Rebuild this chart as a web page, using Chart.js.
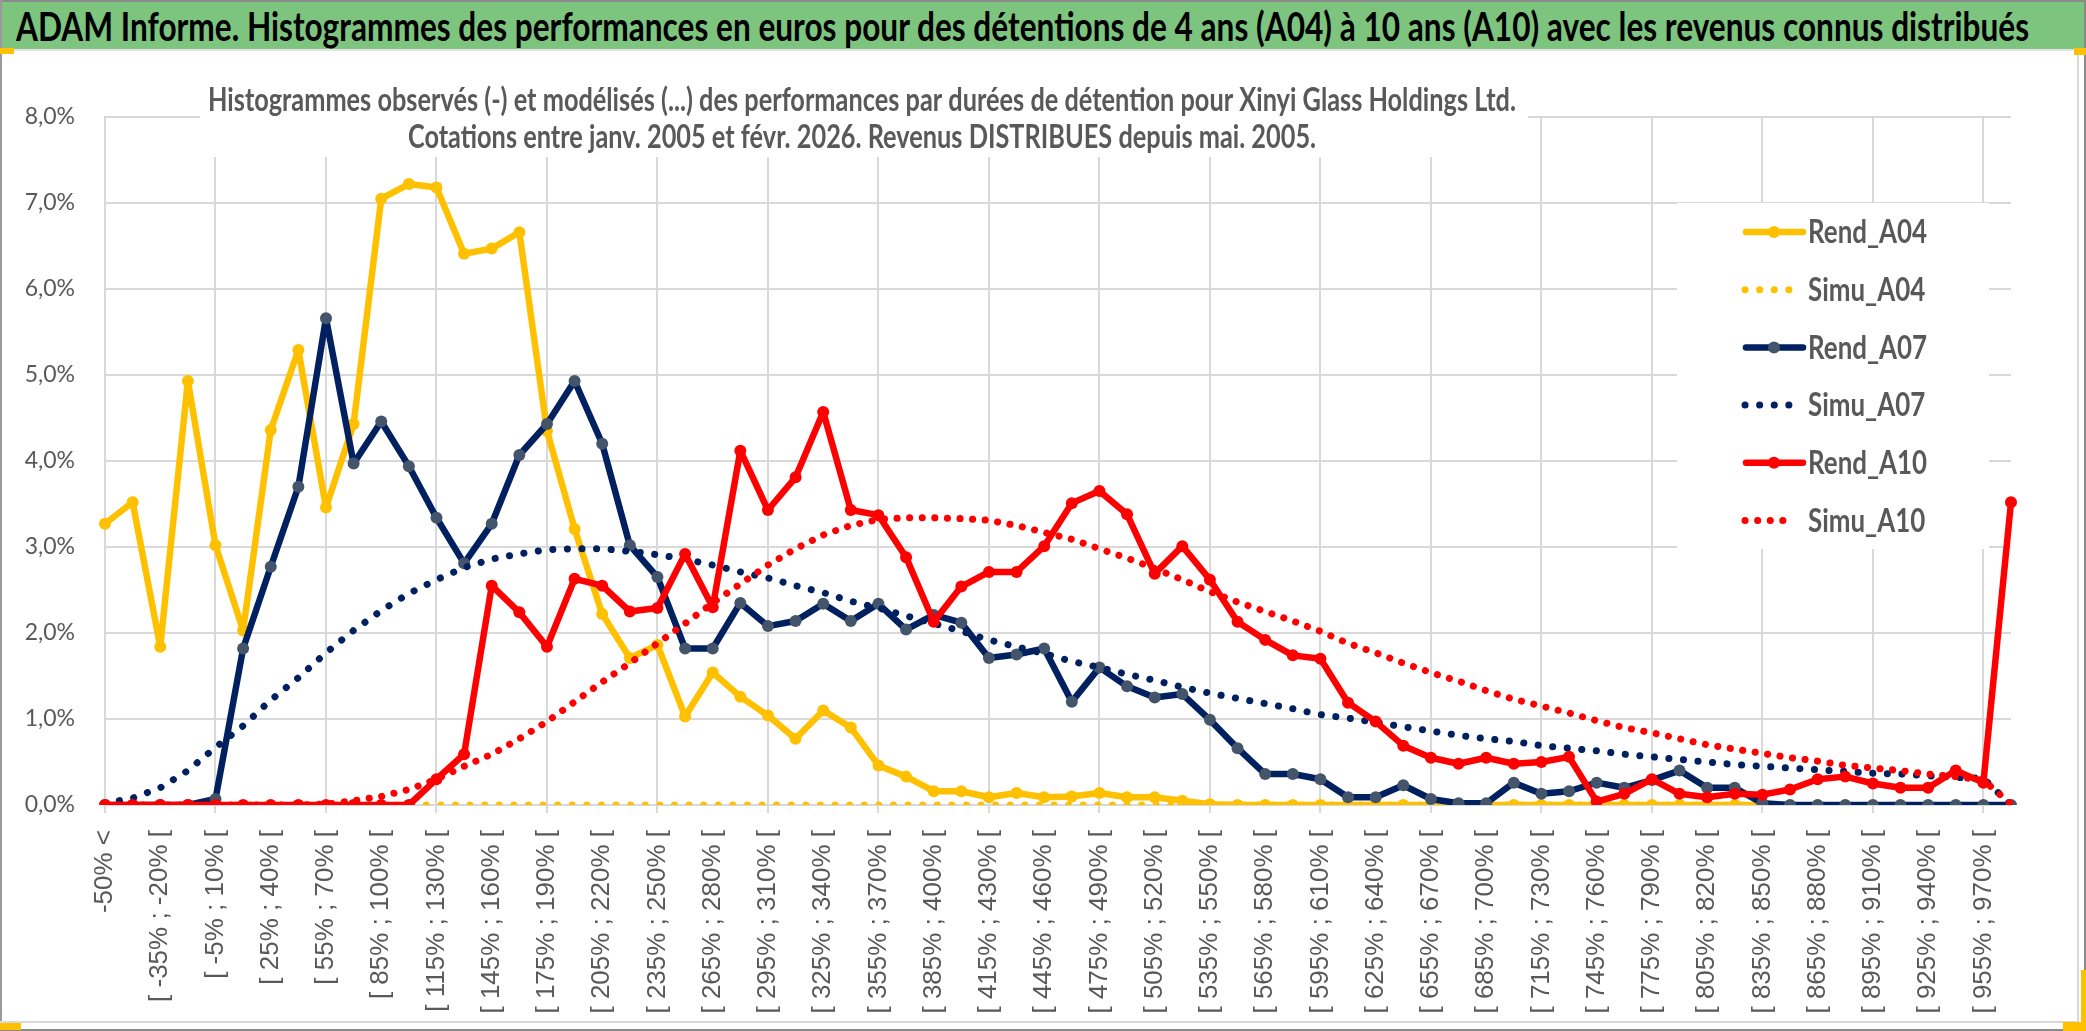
<!DOCTYPE html>
<html lang="fr">
<head>
<meta charset="utf-8">
<title>ADAM Informe - Xinyi Glass Holdings Ltd.</title>
<script src="https://cdn.jsdelivr.net/npm/chart.js@4.4.1/dist/chart.umd.min.js"></script>
<style>
  html, body { margin: 0; padding: 0; background: #fff; }
  #page { position: relative; width: 2086px; height: 1031px; overflow: hidden; background: #fff; }
  #header { position: absolute; left: 0; top: 0; width: 2086px; height: 49px; background: #7DC57E; }
  #header h1 { position: absolute; left: 16px; top: 0; margin: 0; line-height: 52px; font-family: Lato, 'Liberation Sans', sans-serif; font-weight: bold; font-size: 40px; color: #000; white-space: nowrap; transform-origin: 0 50%; }
  .line { position: absolute; }
  .mark { position: absolute; background: #FFC000; }
  #chart { position: absolute; left: 2px; top: 51px; }
</style>
</head>
<body>
<div id="page">
  <div id="header"><h1 id="title">ADAM Informe. Histogrammes des performances en euros pour des détentions de 4 ans (A04) à 10 ans (A10) avec les revenus connus distribués</h1></div>
  <!-- cadre -->
  <div class="line" style="left:0;top:0;width:2086px;height:2px;background:#8a8a8a"></div>
  <div class="line" style="left:0;top:49px;width:2086px;height:2px;background:#e3e3e3"></div>
  <div class="line" style="left:0;top:0;width:2px;height:1031px;background:#9a9a9a"></div>
  <div class="line" style="left:2077px;top:51px;width:2px;height:972px;background:#d9d9d9"></div>
  <div class="line" style="left:2084px;top:0;width:2px;height:1031px;background:#8a8a8a"></div>
  <div class="line" style="left:0;top:1021px;width:2079px;height:2px;background:#d9d9d9"></div>
  <div class="line" style="left:0;top:1029px;width:2086px;height:2px;background:#8a8a8a"></div>
  <div class="mark" style="left:0;top:48px;width:14px;height:6px"></div>
  <div class="mark" style="left:2074px;top:48px;width:12px;height:7px"></div>
  <div class="mark" style="left:0;top:1023px;width:21px;height:7px"></div>
  <div class="mark" style="left:2063px;top:1022px;width:23px;height:9px"></div>
  <div class="mark" style="left:2081px;top:970px;width:5px;height:61px"></div>
  <canvas id="chart" width="2076" height="971"></canvas>
</div>
<script>
// classes de performance (pas de 15 %)
const categories = [
  '-50% <', '[ -50% ; -35% [', '[ -35% ; -20% [', '[ -20% ; -5% [', '[ -5% ; 10% [',
  '[ 10% ; 25% [', '[ 25% ; 40% [', '[ 40% ; 55% [', '[ 55% ; 70% [', '[ 70% ; 85% [',
  '[ 85% ; 100% [', '[ 100% ; 115% [', '[ 115% ; 130% [', '[ 130% ; 145% [', '[ 145% ; 160% [',
  '[ 160% ; 175% [', '[ 175% ; 190% [', '[ 190% ; 205% [', '[ 205% ; 220% [', '[ 220% ; 235% [',
  '[ 235% ; 250% [', '[ 250% ; 265% [', '[ 265% ; 280% [', '[ 280% ; 295% [', '[ 295% ; 310% [',
  '[ 310% ; 325% [', '[ 325% ; 340% [', '[ 340% ; 355% [', '[ 355% ; 370% [', '[ 370% ; 385% [',
  '[ 385% ; 400% [', '[ 400% ; 415% [', '[ 415% ; 430% [', '[ 430% ; 445% [', '[ 445% ; 460% [',
  '[ 460% ; 475% [', '[ 475% ; 490% [', '[ 490% ; 505% [', '[ 505% ; 520% [', '[ 520% ; 535% [',
  '[ 535% ; 550% [', '[ 550% ; 565% [', '[ 565% ; 580% [', '[ 580% ; 595% [', '[ 595% ; 610% [',
  '[ 610% ; 625% [', '[ 625% ; 640% [', '[ 640% ; 655% [', '[ 655% ; 670% [', '[ 670% ; 685% [',
  '[ 685% ; 700% [', '[ 700% ; 715% [', '[ 715% ; 730% [', '[ 730% ; 745% [', '[ 745% ; 760% [',
  '[ 760% ; 775% [', '[ 775% ; 790% [', '[ 790% ; 805% [', '[ 805% ; 820% [', '[ 820% ; 835% [',
  '[ 835% ; 850% [', '[ 850% ; 865% [', '[ 865% ; 880% [', '[ 880% ; 895% [', '[ 895% ; 910% [',
  '[ 910% ; 925% [', '[ 925% ; 940% [', '[ 940% ; 955% [', '[ 955% ; 970% [', '970% >'
];

// fréquences observées (en %)
const rendA04 = [
  3.27, 3.52, 1.84, 4.93, 3.02, 2.03, 4.36, 5.29, 3.46, 4.43,
  7.05, 7.22, 7.18, 6.41, 6.47, 6.66, 4.35, 3.21, 2.22, 1.71,
  1.86, 1.03, 1.54, 1.26, 1.04, 0.77, 1.10, 0.90, 0.46, 0.33,
  0.16, 0.16, 0.09, 0.14, 0.09, 0.10, 0.14, 0.09, 0.09, 0.05,
  0.01, 0, 0, 0, 0, 0, 0, 0, 0, 0,
  0, 0, 0, 0, 0, 0, 0, 0, 0, 0,
  0, null, null, null, null, null, null, null, null, null
];
const rendA07 = [
  0, 0, 0, 0, 0.07, 1.82, 2.77, 3.70, 5.66, 3.97,
  4.46, 3.94, 3.34, 2.81, 3.27, 4.07, 4.43, 4.93, 4.20, 3.02,
  2.65, 1.82, 1.82, 2.35, 2.08, 2.14, 2.34, 2.14, 2.34, 2.04,
  2.21, 2.12, 1.71, 1.75, 1.82, 1.20, 1.60, 1.38, 1.25, 1.29,
  0.99, 0.66, 0.36, 0.36, 0.30, 0.09, 0.09, 0.23, 0.07, 0.02,
  0.02, 0.26, 0.13, 0.16, 0.26, 0.20, 0.29, 0.40, 0.20, 0.20,
  0.02, 0, 0, 0, 0, 0, 0, 0, 0, 0
];
const rendA10 = [
  0, 0, 0, 0, 0, 0, 0, 0, 0, 0,
  0, 0, 0.30, 0.59, 2.55, 2.24, 1.84, 2.63, 2.55, 2.25,
  2.29, 2.92, 2.30, 4.12, 3.43, 3.81, 4.57, 3.43, 3.37, 2.88,
  2.13, 2.54, 2.71, 2.71, 3.01, 3.51, 3.65, 3.38, 2.69, 3.01,
  2.62, 2.13, 1.92, 1.74, 1.70, 1.19, 0.97, 0.69, 0.55, 0.48,
  0.55, 0.48, 0.50, 0.56, 0.04, 0.13, 0.30, 0.13, 0.09, 0.13,
  0.12, 0.18, 0.30, 0.33, 0.25, 0.20, 0.20, 0.40, 0.26, 3.52
];

// fréquences modélisées (en %)
const simuA04 = [
  0, 0, 0, 0, 0, 0, 0, 0, 0, 0,
  0, 0, 0, 0, 0, 0, 0, 0, 0, 0,
  0, 0, 0, 0, 0, 0, 0, 0, 0, 0,
  0, 0, 0, 0, 0, 0, 0, 0, 0, 0,
  0, 0, 0, 0, 0, 0, 0, 0, 0, 0,
  0, 0, 0, 0, 0, 0, 0, 0, 0, 0,
  0, null, null, null, null, null, null, null, null, null
];
const simuA07 = [
  0.02, 0.08, 0.20, 0.40, 0.67, 0.92, 1.22, 1.48, 1.77, 2.03,
  2.26, 2.46, 2.62, 2.76, 2.86, 2.92, 2.97, 2.98, 2.98, 2.95,
  2.91, 2.86, 2.79, 2.71, 2.64, 2.55, 2.47, 2.37, 2.29, 2.20,
  2.11, 2.02, 1.92, 1.84, 1.76, 1.67, 1.60, 1.52, 1.45, 1.37,
  1.30, 1.24, 1.18, 1.12, 1.05, 1.01, 0.96, 0.91, 0.86, 0.81,
  0.77, 0.74, 0.69, 0.66, 0.63, 0.59, 0.56, 0.53, 0.50, 0.47,
  0.45, 0.43, 0.41, 0.39, 0.37, 0.36, 0.34, 0.32, 0.31, 0
];
const simuA10 = [
  0, 0, 0, 0, 0, 0, 0, 0, 0.01, 0.05,
  0.10, 0.18, 0.30, 0.45, 0.59, 0.77, 0.97, 1.20, 1.43, 1.65,
  1.88, 2.11, 2.35, 2.57, 2.79, 2.98, 3.14, 3.25, 3.32, 3.34,
  3.34, 3.33, 3.31, 3.25, 3.17, 3.09, 2.98, 2.87, 2.75, 2.62,
  2.48, 2.36, 2.25, 2.14, 2.02, 1.88, 1.77, 1.65, 1.54, 1.44,
  1.33, 1.23, 1.15, 1.07, 0.98, 0.90, 0.84, 0.77, 0.70, 0.65,
  0.60, 0.55, 0.51, 0.46, 0.43, 0.40, 0.36, 0.33, 0.29, 0.01
];

const yTickLabels = ['0,0%', '1,0%', '2,0%', '3,0%', '4,0%', '5,0%', '6,0%', '7,0%', '8,0%'];
const subtitleLines = [
  'Histogrammes observés (-) et modélisés (...) des performances par durées de détention pour Xinyi Glass Holdings Ltd.',
  'Cotations entre janv. 2005 et févr. 2026. Revenus DISTRIBUES depuis mai. 2005.'
];

const JAUNE = '#FFC000';
const MARINE = '#002060';
const ROUGE = '#FF0000';
const GRIS = '#595959';
const SANS = "Lato, 'Liberation Sans', sans-serif";

// le titre du bandeau vert est resserré pour tenir sur sa largeur
const title = document.getElementById('title');
title.style.transform = 'scaleX(' + (2013 / title.offsetWidth) + ')';

const solid = (label, data, color, pointColor, order) => ({
  label, data, order,
  borderColor: color,
  backgroundColor: color,
  borderWidth: 6.5,
  borderJoinStyle: 'round',
  borderCapStyle: 'round',
  pointRadius: 6,
  pointHoverRadius: 6,
  pointBorderWidth: 0,
  pointBackgroundColor: pointColor,
  tension: 0,
  spanGaps: false
});
const dotted = (label, data, color, gap, order) => ({
  label, data, order,
  borderColor: color,
  backgroundColor: color,
  borderWidth: 7,
  borderDash: [0.1, gap],
  borderCapStyle: 'round',
  borderJoinStyle: 'round',
  pointRadius: 0,
  pointHoverRadius: 0,
  tension: 0,
  spanGaps: false
});

// texte resserré horizontalement (aspect de la capture d'origine)
function squeezedText(ctx, text, x, y, sx) {
  ctx.save();
  ctx.translate(x, y);
  ctx.scale(sx, 1);
  ctx.fillText(text, 0, 0);
  ctx.restore();
}

// sous-titre et légende posés sur la zone de tracé, comme dans Excel
const overlay = {
  id: 'overlay',
  beforeDatasetsDraw(chart) {
    const ctx = chart.ctx;
    ctx.save();
    ctx.fillStyle = '#fff';
    ctx.fillRect(198, 0, 1328, 106);
    ctx.fillStyle = GRIS;
    ctx.font = 'bold 32px ' + SANS;
    ctx.textAlign = 'center';
    ctx.textBaseline = 'middle';
    const sx = 1308 / ctx.measureText(subtitleLines[0]).width;
    subtitleLines.forEach((t, i) => squeezedText(ctx, t, 860, 50 + i * 37, sx));

    ctx.fillStyle = '#fff';
    ctx.fillRect(1675, 152, 312, 346);
    ctx.font = 'bold 32px ' + SANS;
    ctx.textAlign = 'left';
    chart.data.datasets.forEach((ds, i) => {
      const y = 181 + i * 57.7;
      ctx.strokeStyle = ds.borderColor;
      ctx.lineWidth = ds.borderWidth;
      ctx.lineCap = 'round';
      ctx.setLineDash(ds.borderDash || []);
      ctx.beginPath();
      if (ds.borderDash) {
        ctx.moveTo(1743, y);
        ctx.lineTo(1791, y);
      } else {
        ctx.moveTo(1744, y);
        ctx.lineTo(1801, y);
      }
      ctx.stroke();
      ctx.setLineDash([]);
      if (ds.pointRadius) {
        ctx.fillStyle = ds.pointBackgroundColor;
        ctx.beginPath();
        ctx.arc(1772, y, ds.pointRadius, 0, Math.PI * 2);
        ctx.fill();
      }
      ctx.fillStyle = GRIS;
      squeezedText(ctx, ds.label, 1806, y + 1, 0.81);
    });
    ctx.restore();
  }
};

new Chart(document.getElementById('chart'), {
  type: 'line',
  data: {
    labels: categories,
    datasets: [
      solid('Rend_A04', rendA04, JAUNE, JAUNE, 5),
      dotted('Simu_A04', simuA04, JAUNE, 14.5, 4),
      solid('Rend_A07', rendA07, MARINE, '#44546A', 3),
      dotted('Simu_A07', simuA07, MARINE, 14.5, 2),
      solid('Rend_A10', rendA10, ROUGE, ROUGE, 1),
      dotted('Simu_A10', simuA10, ROUGE, 12.5, 0)
    ]
  },
  options: {
    responsive: false,
    animation: false,
    devicePixelRatio: 1,
    layout: { padding: { top: 66, right: 67, left: 0, bottom: 0 } },
    plugins: {
      legend: { display: false },
      title: { display: false },
      tooltip: { enabled: false }
    },
    scales: {
      x: {
        offset: false,
        afterFit: (s) => { s.height = 217; },
        grid: {
          color: (c) => (c.index % 4 === 0 ? '#D9D9D9' : 'rgba(0,0,0,0)'),
          lineWidth: 2,
          tickLength: 8
        },
        border: { color: '#D9D9D9', width: 2 },
        ticks: {
          autoSkip: false,
          maxRotation: 90,
          minRotation: 90,
          padding: 17,
          color: GRIS,
          font: { family: "'Liberation Sans', Arial, sans-serif", size: 26 },
          callback: (v, i) => (i % 2 === 0 ? categories[i] : '')
        }
      },
      y: {
        min: 0,
        max: 8,
        afterFit: (s) => { s.width = 103; },
        grid: { color: '#D9D9D9', lineWidth: 2, drawTicks: false },
        border: { color: '#D9D9D9', width: 2 },
        ticks: {
          stepSize: 1,
          padding: 30,
          color: GRIS,
          font: { family: SANS, size: 23 },
          callback: (v) => yTickLabels[v]
        }
      }
    }
  },
  plugins: [overlay]
});
</script>
</body>
</html>
